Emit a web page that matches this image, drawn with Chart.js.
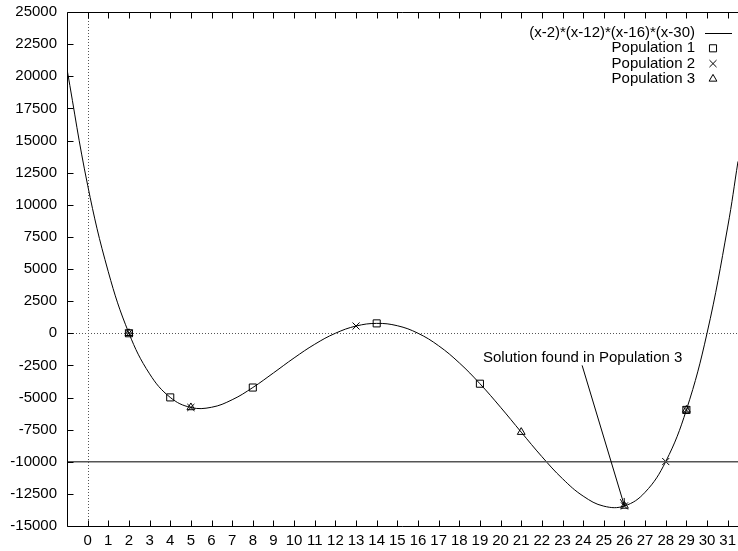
<!DOCTYPE html>
<html>
<head>
<meta charset="utf-8">
<script src="https://cdn.jsdelivr.net/npm/chart.js@4.4.1/dist/chart.umd.min.js"></script>
<style>
  html, body { margin: 0; padding: 0; background: #fff; }
  #wrap { width: 738px; height: 551px; }
</style>
</head>
<body>
<div id="wrap"><canvas id="plot"></canvas></div>
<script>
// curve samples read along the plotted polynomial
const curveX = [-1, 0, 1, 2, 3, 4, 5, 6, 7, 8, 9, 10, 11, 12, 13, 14, 15, 16,
  17, 18, 19, 20, 21, 22, 23, 24, 25, 26, 27, 28, 29, 30, 31, 31.5];
const curveY = [20553, 11520, 4785, 0, -3159, -4992, -5775, -5760, -5175, -4224,
  -3087, -1920, -855, 0, 561, 768, 585, 0, -975, -2304, -3927, -5760, -7695,
  -9600, -11319, -12672, -13455, -13440, -12375, -9984, -5967, 0, 8265, 13375];

const pop1X = [2, 4, 8, 14, 19, 29];
const pop1Y = [0, -4992, -4224, 768, -3927, -5967];
const pop2X = [2, 5, 13, 26, 28, 29];
const pop2Y = [0, -5775, 561, -13440, -9984, -5967];
const pop3X = [2, 5, 21, 26, 29];
const pop3Y = [0, -5775, -7695, -13440, -5967];

const limitX = [-1, 31.5];
const limitY = [-10000, -10000];

const xTicks = [0, 1, 2, 3, 4, 5, 6, 7, 8, 9, 10, 11, 12, 13, 14, 15, 16, 17,
  18, 19, 20, 21, 22, 23, 24, 25, 26, 27, 28, 29, 30, 31];
const yTicks = [-15000, -12500, -10000, -7500, -5000, -2500, 0, 2500, 5000,
  7500, 10000, 12500, 15000, 17500, 20000, 22500, 25000];

const seriesNames = ['(x-2)*(x-12)*(x-16)*(x-30)', 'Population 1', 'Population 2', 'Population 3'];
const noteText = 'Solution found in Population 3';
const notePos = [19.15, -1900];
const arrowFrom = [23.95, -2500];
const arrowTo = [26, -13440];

const FONT = '15px "Liberation Sans", Arial, sans-serif';
const pts = (xs, ys) => xs.map((x, i) => ({ x: x, y: ys[i] }));

// frame, inward ticks, zero axes, legend and the note
const gnuplotLook = {
  id: 'gnuplotLook',
  beforeDatasetsDraw(chart) {
    const { ctx, chartArea: a, scales: { x, y } } = chart;
    ctx.save();
    ctx.strokeStyle = '#555';
    ctx.lineWidth = 1;
    ctx.setLineDash([1, 2]);
    const y0 = Math.round(y.getPixelForValue(0)) + 0.5;
    const x0 = Math.round(x.getPixelForValue(0)) + 0.5;
    ctx.beginPath();
    ctx.moveTo(a.left, y0); ctx.lineTo(a.right, y0);
    ctx.moveTo(x0, a.top); ctx.lineTo(x0, a.bottom);
    ctx.stroke();
    ctx.restore();
  },
  afterDraw(chart) {
    const { ctx, chartArea: a, scales: { x, y } } = chart;
    ctx.save();
    ctx.strokeStyle = '#000';
    ctx.lineWidth = 1;
    ctx.beginPath();
    const L = Math.round(a.left) + 0.5, T = Math.round(a.top) + 0.5;
    const B = Math.round(a.bottom) + 0.5, R = a.right;
    ctx.moveTo(R, T); ctx.lineTo(L, T); ctx.lineTo(L, B); ctx.lineTo(R, B);
    x.ticks.forEach(t => {
      const px = Math.round(x.getPixelForValue(t.value)) + 0.5;
      ctx.moveTo(px, B); ctx.lineTo(px, B - 6);
      ctx.moveTo(px, T); ctx.lineTo(px, T + 6);
    });
    y.ticks.forEach(t => {
      const py = Math.round(y.getPixelForValue(t.value)) + 0.5;
      ctx.moveTo(L, py); ctx.lineTo(L + 6, py);
    });
    ctx.stroke();

    // legend, text right aligned with the sample on its right
    ctx.font = FONT;
    ctx.textAlign = 'right';
    ctx.textBaseline = 'middle';
    seriesNames.forEach((name, i) => {
      const ly = 33 + i * 15.3;
      ctx.fillStyle = '#000';
      ctx.fillText(name, 695, ly);
      const ds = chart.data.datasets[i + 1];
      if (i === 0) {
        ctx.beginPath();
        ctx.moveTo(705, Math.round(ly) + 0.5); ctx.lineTo(732, Math.round(ly) + 0.5);
        ctx.stroke();
      } else {
        ctx.fillStyle = 'rgba(0,0,0,0)';
        Chart.helpers.drawPoint(ctx, {
          pointStyle: ds.pointStyle, radius: ds.pointRadius, borderWidth: 1, rotation: 0
        }, 713, ly);
      }
    });

    // note with arrow
    ctx.fillStyle = '#000';
    ctx.textAlign = 'left';
    ctx.fillText(noteText, x.getPixelForValue(notePos[0]), y.getPixelForValue(notePos[1]));
    const fx = x.getPixelForValue(arrowFrom[0]), fy = y.getPixelForValue(arrowFrom[1]);
    const tx = x.getPixelForValue(arrowTo[0]), ty = y.getPixelForValue(arrowTo[1]);
    const ang = Math.atan2(ty - fy, tx - fx);
    ctx.beginPath();
    ctx.moveTo(fx, fy); ctx.lineTo(tx, ty);
    ctx.moveTo(tx - 8 * Math.cos(ang - 0.26), ty - 8 * Math.sin(ang - 0.26));
    ctx.lineTo(tx, ty);
    ctx.lineTo(tx - 8 * Math.cos(ang + 0.26), ty - 8 * Math.sin(ang + 0.26));
    ctx.stroke();
    ctx.restore();
  }
};

const markerSet = (xs, ys, style, r) => ({
  data: pts(xs, ys),
  showLine: false,
  pointStyle: style,
  pointRadius: r,
  pointHoverRadius: r,
  pointBorderWidth: 1,
  pointBorderColor: '#000',
  pointBackgroundColor: 'rgba(0,0,0,0)'
});

new Chart(document.getElementById('plot'), {
  type: 'scatter',
  data: {
    datasets: [
      {
        data: pts(limitX, limitY),
        showLine: true,
        borderColor: '#555',
        borderWidth: 1.3,
        pointRadius: 0
      },
      {
        data: pts(curveX, curveY),
        showLine: true,
        borderColor: '#000',
        borderWidth: 1,
        pointRadius: 0,
        tension: 0.4
      },
      markerSet(pop1X, pop1Y, 'rect', 5),
      markerSet(pop2X, pop2Y, 'crossRot', 5),
      markerSet(pop3X, pop3Y, 'triangle', 4.5)
    ]
  },
  options: {
    responsive: true,
    maintainAspectRatio: false,
    animation: false,
    events: [],
    layout: { autoPadding: false, padding: { top: 12, right: 0, left: 0, bottom: 0 } },
    plugins: { legend: { display: false }, tooltip: { enabled: false } },
    scales: {
      x: {
        type: 'linear',
        min: -1,
        max: 31.5,
        grid: { display: false, drawTicks: false },
        border: { display: false },
        afterBuildTicks: s => { s.ticks = xTicks.map(v => ({ value: v })); },
        afterFit: s => { s.height = 25; s.paddingLeft = 0; s.paddingRight = 0; },
        ticks: {
          autoSkip: false,
          maxRotation: 0,
          padding: 6,
          color: '#000',
          font: { family: '"Liberation Sans", Arial, sans-serif', size: 15 },
          callback: v => String(v)
        }
      },
      y: {
        type: 'linear',
        min: -15000,
        max: 25000,
        grid: { display: false, drawTicks: false },
        border: { display: false },
        afterBuildTicks: s => { s.ticks = yTicks.map(v => ({ value: v })); },
        afterFit: s => { s.width = 67; s.paddingTop = 0; s.paddingBottom = 0; },
        ticks: {
          padding: 10,
          color: '#000',
          font: { family: '"Liberation Sans", Arial, sans-serif', size: 15 },
          callback: v => String(v)
        }
      }
    }
  },
  plugins: [gnuplotLook]
});
</script>
</body>
</html>
